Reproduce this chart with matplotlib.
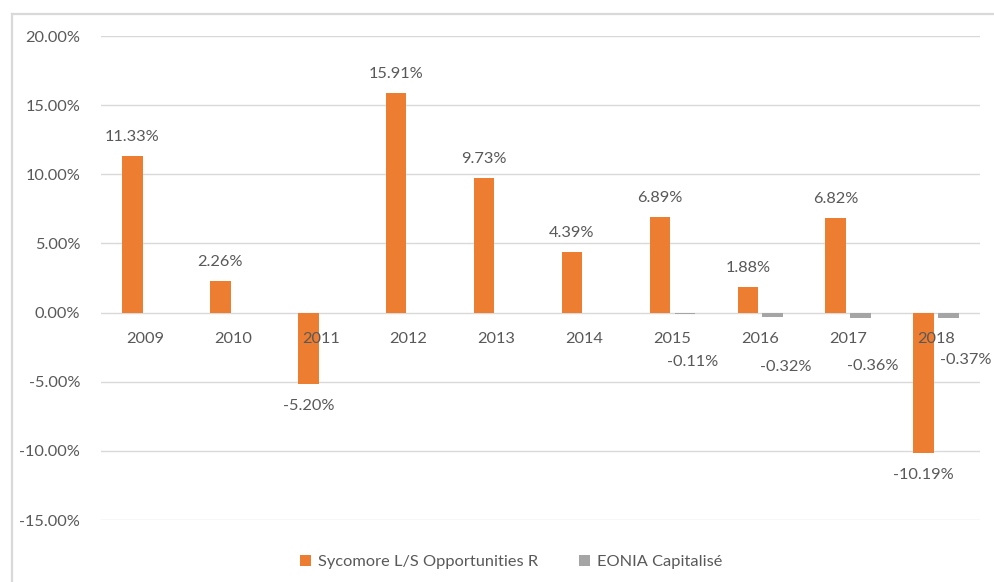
import matplotlib
matplotlib.use("Agg")
import matplotlib.pyplot as plt
import numpy as np
from matplotlib.patches import Patch
from matplotlib.ticker import FuncFormatter

years = ["2009", "2010", "2011", "2012", "2013", "2014", "2015", "2016", "2017", "2018"]
sycomore = [11.33, 2.26, -5.20, 15.91, 9.73, 4.39, 6.89, 1.88, 6.82, -10.19]
eonia = [np.nan, np.nan, np.nan, np.nan, np.nan, np.nan, -0.11, -0.32, -0.36, -0.37]
series_names = ["Sycomore L/S Opportunities R", "EONIA Capitalisé"]

ORANGE = "#ED7D31"
GRAY = "#A5A5A5"
TXT = "#595959"
FONT = "Lato"
FS = 11.8

W, H = 994, 582
fig = plt.figure(figsize=(W / 100, H / 100), dpi=100)
fig.patch.set_facecolor("white")

# chart border (top and left visible)
fig.add_artist(plt.Line2D([12 / W, 1], [1 - 14 / H, 1 - 14 / H], color="#D9D9D9", lw=1.6, transform=fig.transFigure))
fig.add_artist(plt.Line2D([12 / W, 12 / W], [0, 1 - 14 / H], color="#D9D9D9", lw=1.6, transform=fig.transFigure))

ax = fig.add_axes([101 / W, 1 - 520 / H, (980 - 101) / W, (520 - 36) / H])
x = np.arange(len(years))
bw = 0.233
off = 0.142
ax.bar(x - off, sycomore, bw, color=ORANGE, zorder=3)
ax.bar(x + off, eonia, bw, color=GRAY, zorder=3)

ax.set_xlim(-0.5, len(years) - 0.5)
ax.set_ylim(-15, 20)
ax.set_yticks(np.arange(-15, 20.01, 5))
ax.yaxis.set_major_formatter(FuncFormatter(lambda v, p: f"{v:.2f}%"))
ax.grid(axis="y", color="#D9D9D9", lw=1.0, zorder=0)
ax.set_xticks([])
for s in ax.spines.values():
    s.set_visible(False)
ax.tick_params(axis="y", length=0, pad=15, labelsize=FS, labelcolor=TXT)
for lab in ax.get_yticklabels():
    lab.set_fontfamily(FONT)

# year labels at the zero line
for i, y in enumerate(years):
    ax.annotate(y, (i, 0), xytext=(0, -26), textcoords="offset pixels",
                ha="center", va="center", fontsize=FS, color=TXT, family=FONT, zorder=5)

# orange value labels
for i, v in enumerate(sycomore):
    dy = 19 if v >= 0 else -22
    ax.annotate(f"{v:.2f}%", (i - off, v), xytext=(0, dy), textcoords="offset pixels",
                ha="center", va="center", fontsize=FS, color=TXT, family=FONT, zorder=5)

# gray value labels (manually shifted as in the reference)
gray_dx = [0, 0, 0, 0, 0, 0, 8, 13, 12, 17]
gray_dy = [0, 0, 0, 0, 0, 0, -48, -50, -48, -42]
for i, v in enumerate(eonia):
    if np.isnan(v):
        continue
    ax.annotate(f"{v:.2f}%", (i + off, v), xytext=(gray_dx[i], gray_dy[i]), textcoords="offset pixels",
                ha="center", va="center", fontsize=FS, color=TXT, family=FONT, zorder=5)

handles = [Patch(facecolor=ORANGE, edgecolor="none"), Patch(facecolor=GRAY, edgecolor="none")]
leg = fig.legend(handles, series_names, loc="center", bbox_to_anchor=(511 / W, 1 - 562 / H),
                 ncol=2, frameon=False, handlelength=0.7, handleheight=0.7, handletextpad=0.4,
                 columnspacing=2.5, prop={"family": FONT, "size": FS})
for t in leg.get_texts():
    t.set_color(TXT)

fig.savefig("out.png", dpi=100, facecolor="white")
